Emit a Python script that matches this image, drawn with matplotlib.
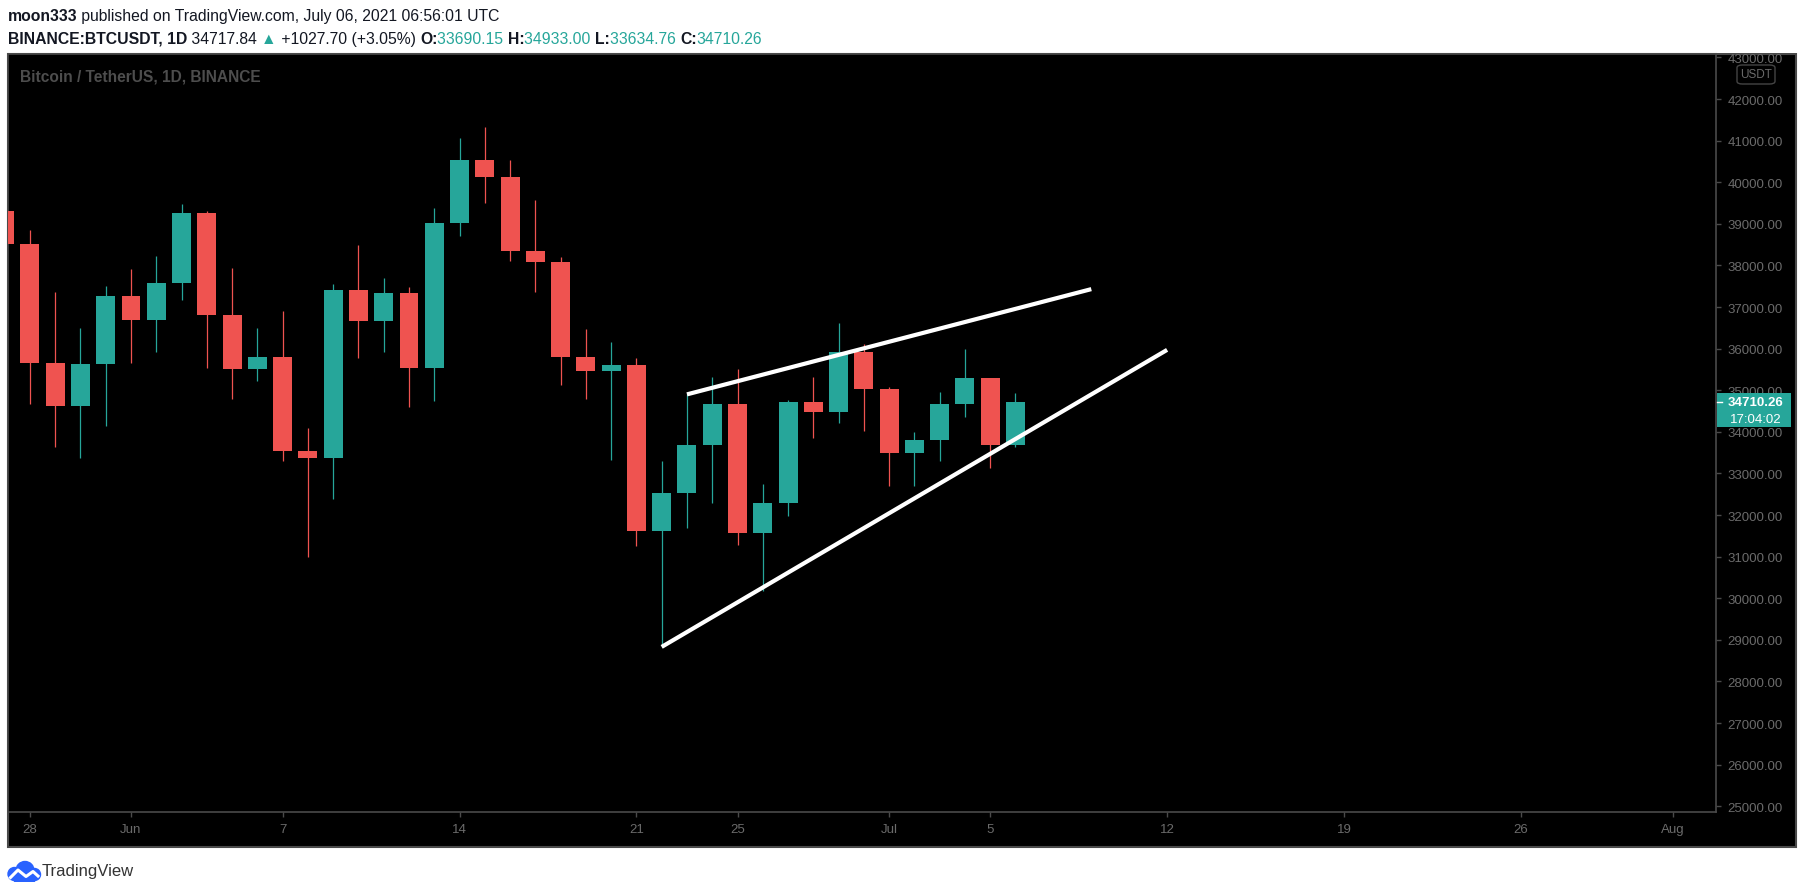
import matplotlib
matplotlib.use('Agg')
import matplotlib.pyplot as plt
import matplotlib.dates as mdates
from matplotlib.patches import Rectangle, FancyBboxPatch, Circle
from matplotlib.ticker import FormatStrFormatter
import numpy as np
import pandas as pd

W, H = 1805, 895
FONT = ['Liberation Sans', 'DejaVu Sans']
plt.rcParams['font.family'] = FONT

# daily BTCUSDT candles (May 27 .. Jul 6 2021)
dates = pd.date_range('2021-05-27', '2021-07-06', freq='D')
opens = [39300, 38520, 35660, 34610, 35640, 37260, 36690, 37570, 39250, 36820,
         35510, 35800, 33545, 33375, 37400, 36670, 37335, 35540, 39020, 40530,
         40135, 38335, 38085, 35810, 35470, 35605, 31610, 32520, 33680, 34665,
         31575, 32300, 34710, 34485, 35915, 35037, 33497, 33795, 34680, 35290,
         33690.15]
highs = [40400, 38860, 37350, 36490, 37500, 37910, 38225, 39476, 39300, 37930,
         36490, 36900, 34080, 37550, 38490, 37690, 37470, 39380, 41062, 41327,
         40534, 39570, 38202, 36465, 36150, 35770, 33310, 34900, 35310, 35505,
         32740, 34760, 35310, 36610, 36105, 35070, 33990, 34950, 35980, 35305,
         34933.00]
lows = [37150, 34680, 33640, 33380, 34150, 35660, 35920, 37175, 35540, 34790,
        35230, 33300, 30990, 32390, 35780, 35920, 34600, 34745, 38710, 39500,
        38110, 37360, 35125, 34795, 33330, 31254, 28830, 31685, 32288, 31277,
        30165, 31975, 33855, 34215, 34018, 32704, 32700, 33305, 34356, 33128,
        33634.76]
closes = [38520, 35660, 34610, 35640, 37260, 36690, 37570, 39250, 36820, 35510,
          35800, 33545, 33375, 37400, 36670, 37335, 35540, 39020, 40530, 40135,
          38335, 38085, 35810, 35470, 35605, 31610, 32520, 33680, 34665, 31575,
          32300, 34710, 34485, 35915, 35037, 33497, 33795, 34680, 35290, 33690,
          34710.26]

# drawn wedge lines
upper_x = ['2021-06-23', '2021-07-09']
upper_y = [34900, 37430]
lower_x = ['2021-06-22', '2021-07-12']
lower_y = [28830, 35970]

tick_dates = ['2021-05-28', '2021-06-01', '2021-06-07', '2021-06-14', '2021-06-21',
              '2021-06-25', '2021-07-01', '2021-07-05', '2021-07-12', '2021-07-19',
              '2021-07-26', '2021-08-01']
tick_labels = ['28', 'Jun', '7', '14', '21', '25', 'Jul', '5', '12', '19', '26', 'Aug']

UP = '#26a69a'
DOWN = '#ef5350'
GRID_GREY = '#4a4a4a'
LABEL_GREY = '#6b6b6b'
DARK = '#131722'


def fx(px):
    return px / W


def fy(py):
    return 1 - py / H


fig = plt.figure(figsize=(W / 100, H / 100), dpi=100, facecolor='white')

# whole black panel with border
fig.add_artist(Rectangle((fx(8), fy(848)), fx(1796 - 8), (848 - 55) / H,
                         transform=fig.transFigure, facecolor='black',
                         edgecolor=GRID_GREY, lw=1.5, zorder=-1))

ax = fig.add_axes([fx(8), fy(813), fx(1716 - 8), (813 - 55) / H])
ax.set_facecolor('black')
for sp in ax.spines.values():
    sp.set_color(GRID_GREY)
    sp.set_linewidth(1.2)

x = mdates.date2num(dates)
colors = [UP if c >= o else DOWN for o, c in zip(opens, closes)]
ax.vlines(x, lows, highs, colors=colors, lw=0.9, zorder=2)
ax.bar(x, np.array(closes) - np.array(opens), bottom=opens, width=0.75,
       color=colors, zorder=3)

ax.plot(mdates.date2num(pd.to_datetime(upper_x)), upper_y, color='white', lw=3,
        solid_capstyle='butt', zorder=4)
ax.plot(mdates.date2num(pd.to_datetime(lower_x)), lower_y, color='white', lw=3,
        solid_capstyle='butt', zorder=4)

first = mdates.date2num(pd.Timestamp('2021-05-28'))
ax.set_xlim(first - 0.867, first + 66.72)
ax.set_ylim(24861, 43082)

ax.yaxis.tick_right()
ax.set_yticks(np.arange(25000, 43001, 1000))
ax.yaxis.set_major_formatter(FormatStrFormatter('%.2f'))
ax.tick_params(axis='y', colors=GRID_GREY, labelcolor=LABEL_GREY, length=3.6,
               width=1, pad=4.5, labelsize=9.5)
ax.set_xticks(mdates.date2num(pd.to_datetime(tick_dates)))
ax.set_xticklabels(tick_labels)
ax.tick_params(axis='x', colors=GRID_GREY, labelcolor=LABEL_GREY, length=3.6,
               width=1, pad=4.5, labelsize=9.5)

# hide the part of the top price label that pokes out of the panel
fig.add_artist(Rectangle((fx(1717), fy(54.2)), fx(80), 12 / H,
                         transform=fig.transFigure, facecolor='white',
                         edgecolor='none', zorder=5))

# USDT badge
fig.add_artist(FancyBboxPatch((fx(1737), fy(85)), fx(38), 19 / H,
                              boxstyle='round,pad=0,rounding_size=0.003',
                              transform=fig.transFigure, facecolor='black',
                              edgecolor='#444444', lw=1, zorder=6))
fig.text(fx(1756), fy(75.5), 'USDT', color=LABEL_GREY, fontsize=8.5,
         ha='center', va='center', zorder=7)

# last price label on the price scale
fig.canvas.draw()
ypix = ax.transData.transform((x[-1], closes[-1]))[1]
fig.add_artist(Rectangle((fx(1716.5), (ypix - 25) / H), fx(74), 34.3 / H,
                         transform=fig.transFigure, facecolor=UP,
                         edgecolor='none', zorder=6))
fig.add_artist(plt.Line2D([fx(1716.5), fx(1722)], [ypix / H, ypix / H],
                          transform=fig.transFigure, color='white', lw=1, zorder=7))
fig.text(fx(1755.5), ypix / H, '%.2f' % closes[-1], color='white', fontsize=9.5,
         fontweight='bold', ha='center', va='center', zorder=7)
fig.text(fx(1755.5), (ypix - 16.7) / H, '17:04:02', color='white', fontsize=9.5,
         ha='center', va='center', zorder=7)

# chart legend title
fig.text(fx(19.5), fy(76.7), 'Bitcoin / TetherUS, 1D, BINANCE', color='#4d4d4d',
         fontsize=11.2, fontweight='bold', ha='left', va='center')

renderer = fig.canvas.get_renderer()


def draw_runs(runs, px, py, size):
    for s, color, weight in runs:
        t = fig.text(fx(px), fy(py), s, color=color, fontsize=size,
                     fontweight=weight, ha='left', va='center')
        px += t.get_window_extent(renderer=renderer).width


draw_runs([('moon333', DARK, 'bold'),
           (' published on TradingView.com, July 06, 2021 06:56:01 UTC', DARK, 'normal')],
          7.7, 16.7, 11.3)
o, h, l, c = opens[-1], highs[-1], lows[-1], closes[-1]
draw_runs([('BINANCE:BTCUSDT, 1D', DARK, 'bold'),
           (' 34717.84 ', DARK, 'normal'),
           ('\u25b2', UP, 'normal'),
           (' +1027.70 (+3.05%) ', DARK, 'normal'),
           ('O:', DARK, 'bold'), ('%.2f ' % o, UP, 'normal'),
           ('H:', DARK, 'bold'), ('%.2f ' % h, UP, 'normal'),
           ('L:', DARK, 'bold'), ('%.2f ' % l, UP, 'normal'),
           ('C:', DARK, 'bold'), ('%.2f' % c, UP, 'normal')],
          7.7, 39.3, 11.3)

# TradingView logo
lax = fig.add_axes([fx(6), fy(883), fx(36), 24 / H])
lax.set_xlim(0, 36)
lax.set_ylim(0, 24)
lax.set_aspect('equal')
lax.axis('off')
blue = '#2962ff'
lax.add_patch(Circle((8.5, 8), 6.5, color=blue))
lax.add_patch(Circle((19, 11.5), 9, color=blue))
lax.add_patch(Circle((28.5, 7.5), 6, color=blue))
lax.add_patch(Rectangle((8.5, 1.5), 20, 7, color=blue))
lax.plot([4.5, 12, 20, 27, 32], [4.5, 12, 5.5, 10.5, 6], color='white', lw=2.2,
         solid_joinstyle='round')
fig.text(fx(42), fy(871.5), 'TradingView', color='#333333', fontsize=12,
         ha='left', va='center')

fig.savefig('out.png', dpi=100, facecolor='white')
